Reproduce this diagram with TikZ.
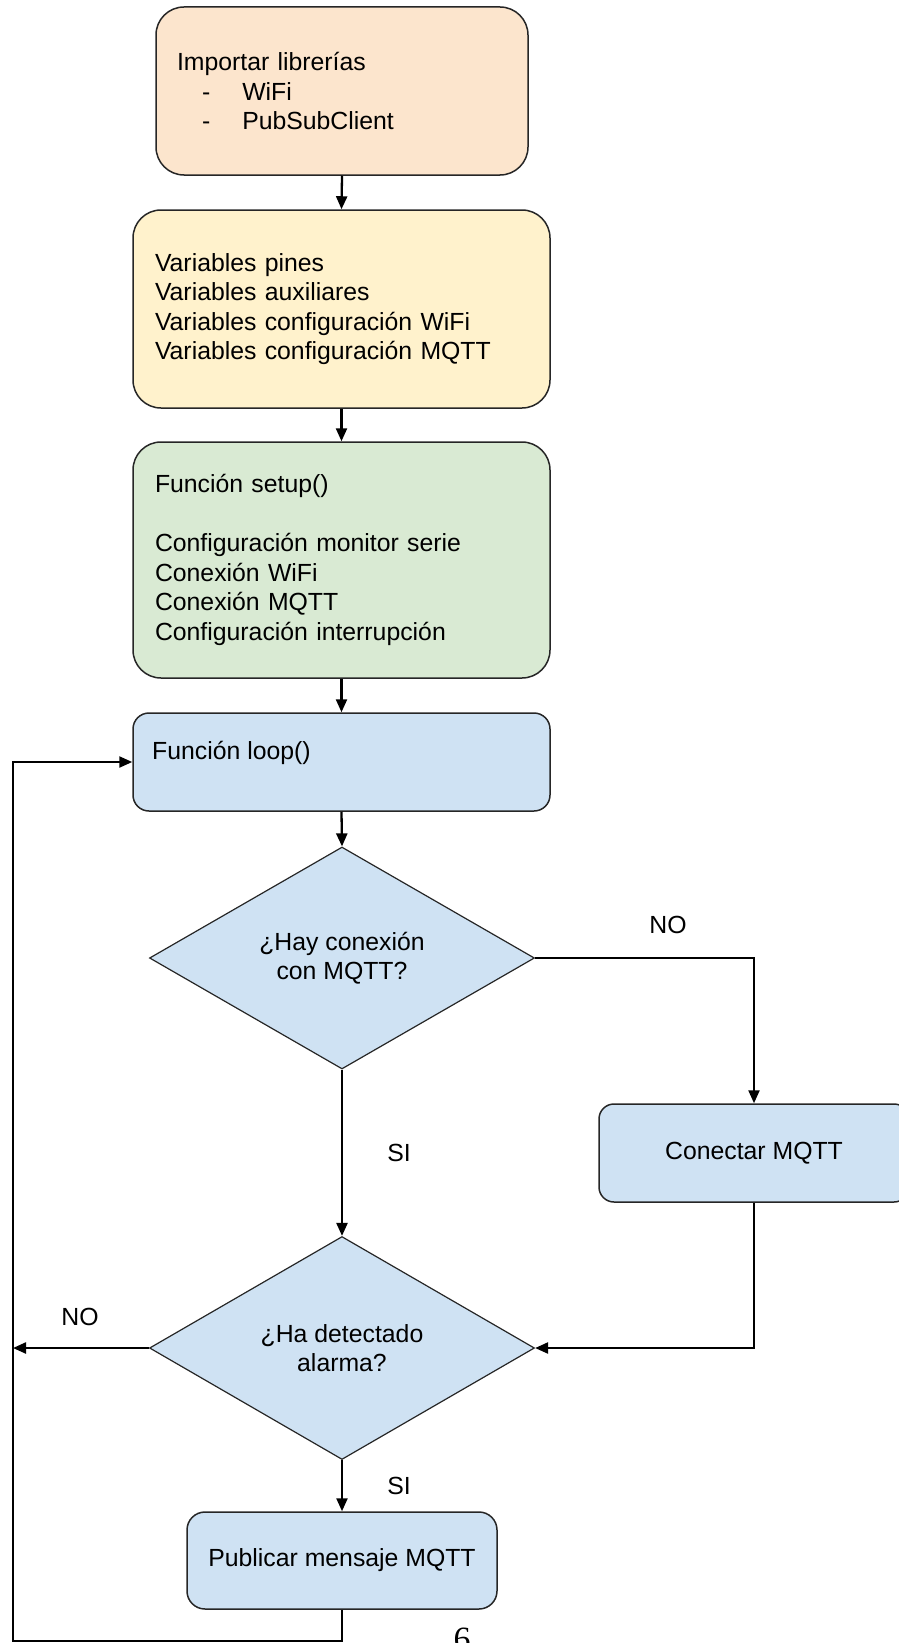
\documentclass[tikz,border=0pt]{standalone}
\usepackage{fontspec}
\setmainfont{Liberation Sans}
\newfontfamily\serifsix{Liberation Serif}
\usetikzlibrary{shapes.geometric,arrows.meta}
\definecolor{corange}{HTML}{FCE5CD}
\definecolor{cyellow}{HTML}{FFF2CC}
\definecolor{cgreen}{HTML}{D9EAD3}
\definecolor{cblue}{HTML}{CFE2F3}
\begin{document}
\begin{tikzpicture}[x=1pt,y=-1pt,
  txtfont/.style={font=\fontsize{24.8}{29.5}\selectfont},
  procbox/.style={draw=black!85, line width=1.5pt, rounded corners=28pt, txtfont, align=left, inner ysep=0pt},
  smallbox/.style={draw=black!85, line width=1.5pt, rounded corners=18pt, fill=cblue, txtfont, align=center, inner sep=0pt},
  decision/.style={diamond, draw=black!85, line width=1.2pt, fill=cblue, txtfont, align=center, inner sep=0pt, aspect=1.734},
  flow/.style={line width=2.3pt, -{Triangle[length=13pt,width=11pt]}},
  lbl/.style={txtfont, inner sep=0pt}
]
\useasboundingbox (0,0) rectangle (899,1643);
\clip (0,0) rectangle (899,1643);

\node[procbox, fill=corange, minimum width=372pt, minimum height=168pt, text width=330pt, inner xsep=21pt] (imp) at (342,91)
  {Importar librerías\\
   \hspace*{25pt}-\hspace{32pt}WiFi\\
   \hspace*{25pt}-\hspace{32pt}PubSubClient};

\node[procbox, fill=cyellow, minimum width=417pt, minimum height=198pt, text width=373pt, inner xsep=22pt] (vars) at (341.5,309)
  {Variables pines\\
   Variables auxiliares\\
   Variables configuración WiFi\\
   Variables configuración MQTT};

\node[procbox, fill=cgreen, minimum width=417pt, minimum height=236pt, text width=373pt, inner xsep=22pt] (setup) at (341.5,560)
  {Función setup()\\[29.5pt]
   Configuración monitor serie\\
   Conexión WiFi\\
   Conexión MQTT\\
   Configuración interrupción};

\node[smallbox, rounded corners=16pt, minimum width=417pt, minimum height=98pt] (loop) at (341.5,762) {};
\node[lbl, anchor=west] (looptxt) at (152,753) {Función loop()};

\node[decision, minimum width=385pt, minimum height=222pt] (d1) at (342,958) {¿Hay conexión\\con MQTT?};

\node[smallbox, rounded corners=15pt, minimum width=310pt, minimum height=98pt] (conn) at (754,1153) {Conectar MQTT};

\node[decision, minimum width=385pt, minimum height=223pt] (d2) at (342,1348) {¿Ha detectado\\alarma?};

\node[smallbox, minimum width=310pt, minimum height=97pt] (pub) at (342,1560.5) {Publicar mensaje MQTT};

\node[lbl] (no1) at (668,925) {NO};
\node[lbl] (si1) at (399,1153) {SI};
\node[lbl] (no2) at (80,1317) {NO};
\node[lbl] (si2) at (399,1486) {SI};

\node[font=\serifsix\fontsize{34}{34}\selectfont, anchor=base, inner sep=0pt] (pagenum) at (462,1650) {6};

\coordinate (lftA) at (13,1348);
\coordinate (botR) at (342,1641);
\coordinate (botL) at (13,1641);

\draw[flow] (imp.south) -- (vars.north);
\draw[flow] (vars.south) -- (setup.north);
\draw[flow] (setup.south) -- (loop.north);
\draw[flow] (loop.south) -- (d1.north);
\draw[flow] (d1.south) -- (d2.north);
\draw[flow] (d1.east) -| (conn.north);
\draw[flow] (conn.south) |- (d2.east);
\draw[flow] (d2.west) -- (lftA);
\draw[flow] (d2.south) -- (pub.north);
\draw[flow] (pub.south) -- (botR) -- (botL) |- (loop.west);
\end{tikzpicture}
\end{document}
